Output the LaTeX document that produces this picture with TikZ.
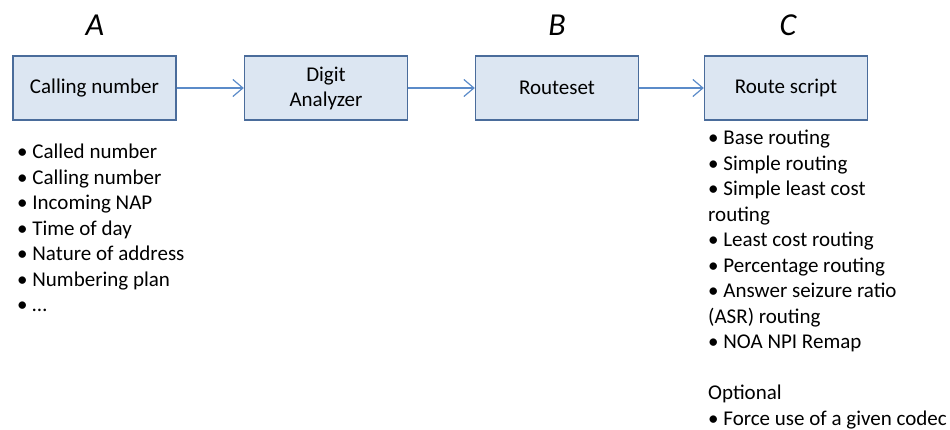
\documentclass[tikz,border=0pt]{standalone}
\usepackage{fontspec}
\setmainfont{Carlito}
\usetikzlibrary{arrows.meta}
\definecolor{boxfill}{HTML}{DCE6F2}
\definecolor{boxline}{HTML}{4A6C9B}
\definecolor{linkblue}{HTML}{5B8BC9}
\tikzset{
  stage/.style={draw=boxline,fill=boxfill,line width=1.4bp,minimum width=163bp,minimum height=64bp,
    inner sep=2bp,align=center,font=\fontsize{21bp}{25bp}\selectfont},
  tag/.style={font=\fontsize{32bp}{36bp}\selectfont\itshape},
  items/.style={anchor=north west,inner sep=0pt,align=left,font=\fontsize{21bp}{25.5bp}\selectfont},
  link/.style={draw=linkblue,line width=1.2bp,-{Straight Barb[length=10bp,width=17bp]}},
}
\begin{document}
\begin{tikzpicture}[x=1bp,y=1bp]
\useasboundingbox (0,0) rectangle (950,-429);
%%
\node (tag_a) at (95,-25) [tag] {A};
  \node (tag_b) at (557,-25) [tag] {B};
  \node (tag_c) at (788,-25) [tag] {C};
  \node (stage_0) at (94.5,-88) [stage] {Calling number};
  \node (stage_1) at (326,-88) [stage] {Digit\\Analyzer};
  \node (stage_2) at (557,-88) [stage] {Routeset};
  \node (stage_3) at (786,-88) [stage] {Route script};
  \node (items_a) at (17,-144) [items] {• Called number\\• Calling number\\• Incoming NAP\\• Time of day\\• Nature of address\\• Numbering plan\\• …};
  \node (items_c) at (708,-130) [items] {• Base routing\\• Simple routing\\• Simple least cost\\routing\\• Least cost routing\\• Percentage routing\\• Answer seizure ratio\\(ASR) routing\\• NOA NPI Remap\\[25.5bp]Optional\\• Force use of a given codec};
  \draw [link] (stage_0) -- (stage_1);
  \draw [link] (stage_1) -- (stage_2);
  \draw [link] (stage_2) -- (stage_3);
%
\end{tikzpicture}
\end{document}
